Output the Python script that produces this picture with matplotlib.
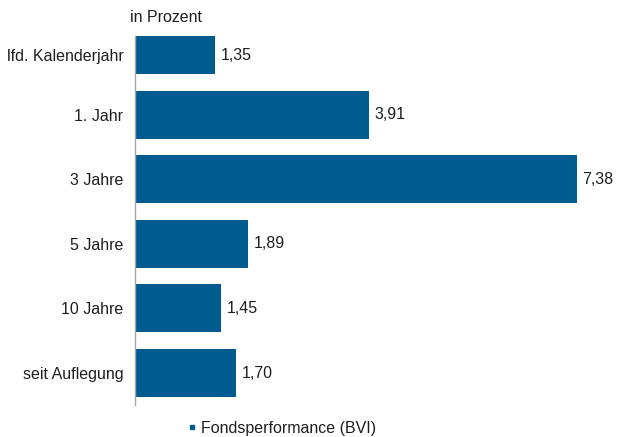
import matplotlib
matplotlib.use("Agg")
import matplotlib.pyplot as plt
from matplotlib.lines import Line2D

categories = ["lfd. Kalenderjahr", "1. Jahr", "3 Jahre", "5 Jahre", "10 Jahre", "seit Auflegung"]
values = [1.35, 3.91, 7.38, 1.89, 1.45, 1.70]
value_labels = ["1,35", "3,91", "7,38", "1,89", "1,45", "1,70"]
series_name = "Fondsperformance (BVI)"
unit_label = "in Prozent"

color = "#005B8E"
txt = "#1e1e1e"
fs = 11.5
plt.rcParams['font.family'] = ['Liberation Sans', 'DejaVu Sans']

W, H = 617, 437
fig = plt.figure(figsize=(W / 100, H / 100), dpi=100)
ax_left, ax_top, ax_bottom, ax_right = 134.5, 36, 405, 600
ax = fig.add_axes([ax_left / W, 1 - ax_bottom / H, (ax_right - ax_left) / W, (ax_bottom - ax_top) / H])

bar_h = 0.743
ylim_top, ylim_bot = -0.217, 5.495
pos = list(range(len(categories)))
ax.barh(pos, values, height=bar_h, color=color, zorder=2)
ax.set_ylim(ylim_bot, ylim_top)
ax.set_xlim(0, (ax_right - ax_left) / 59.9)

# tick/labels at the visible center of each bar
centers = []
for p in pos:
    top = max(p - bar_h / 2, ylim_top)
    bot = min(p + bar_h / 2, ylim_bot)
    centers.append((top + bot) / 2)
ax.set_yticks(centers)
ax.set_yticklabels(categories, fontsize=fs, color=txt)
ax.tick_params(axis='y', length=0, pad=8)
ax.set_xticks([])

for c, v, lab in zip(centers, values, value_labels):
    ax.annotate(lab, xy=(v, c), xytext=(4, 0), textcoords="offset points",
                va="center", ha="left", fontsize=fs, color=txt)

for s in ["top", "right", "bottom"]:
    ax.spines[s].set_visible(False)
ax.spines["left"].set_color("#a6a6a6")
ax.spines["left"].set_linewidth(1.0)

fig.text(130 / W, 1 - 17 / H, unit_label, fontsize=fs, color=txt, ha="left", va="center")

handle = Line2D([], [], marker="s", linestyle="none", markersize=3.5, color=color)
fig.legend([handle], [series_name], loc="center", bbox_to_anchor=(281 / W, 1 - 428 / H),
           frameon=False, fontsize=fs, handletextpad=0.2, handlelength=0.8,
           labelcolor=txt)

fig.savefig("out.png", dpi=100)
